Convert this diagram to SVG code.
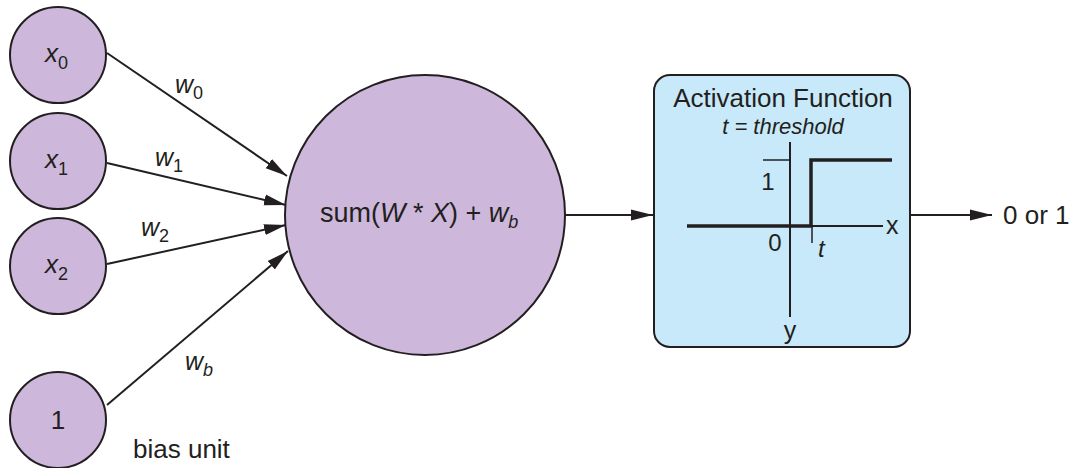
<svg xmlns="http://www.w3.org/2000/svg" width="1075" height="468" viewBox="0 0 1075 468">
<style>
text{font-family:"Liberation Sans",Arial,sans-serif;fill:#231f20}
.node{fill:#cdb8db;stroke:#231f20;stroke-width:2}
.conn{stroke:#231f20;stroke-width:2;fill:none}
.it{font-style:italic}
.lbl{font-size:26px}
.w{font-size:25px}
.sub{font-size:18px;font-style:normal}
.subi{font-size:18px;font-style:italic}
</style>
<defs>
<marker id="ah2" viewBox="0 0 10 10" refX="10" refY="5" markerWidth="22" markerHeight="22" markerUnits="userSpaceOnUse" orient="auto"><path d="M0,2.5 L10,5 L0,7.5 z" fill="#231f20"/></marker>
</defs>
<g id="connectors">
<line class="conn" x1="107" y1="53" x2="287" y2="176" marker-end="url(#ah2)"/>
<line class="conn" x1="107" y1="163" x2="286" y2="205" marker-end="url(#ah2)"/>
<line class="conn" x1="107" y1="264" x2="286" y2="225" marker-end="url(#ah2)"/>
<line class="conn" x1="107" y1="405" x2="288" y2="251" marker-end="url(#ah2)"/>
<line class="conn" x1="565" y1="215" x2="653" y2="215" marker-end="url(#ah2)"/>
<line class="conn" x1="910" y1="215" x2="992" y2="215" marker-end="url(#ah2)"/>
<text class="w it" x="175" y="93">w<tspan class="sub" dy="6">0</tspan></text>
<text class="w it" x="155" y="166">w<tspan class="sub" dy="6">1</tspan></text>
<text class="w it" x="141" y="236">w<tspan class="sub" dy="6">2</tspan></text>
<text class="w it" x="185" y="370">w<tspan class="subi" dy="6">b</tspan></text>
</g>
<g id="x0"><circle class="node" cx="58" cy="55" r="48"/><text class="lbl it" x="45" y="62">x<tspan class="sub" dy="7">0</tspan></text></g>
<g id="x1"><circle class="node" cx="58" cy="161" r="48"/><text class="lbl it" x="45" y="168">x<tspan class="sub" dy="7">1</tspan></text></g>
<g id="x2"><circle class="node" cx="58" cy="266" r="48"/><text class="lbl it" x="45" y="273">x<tspan class="sub" dy="7">2</tspan></text></g>
<g id="bias"><circle class="node" cx="58" cy="420" r="48"/><text class="lbl" x="58" y="429" text-anchor="middle">1</text><text class="lbl" x="133" y="458">bias unit</text></g>
<g id="sum"><circle class="node" cx="425" cy="215" r="140"/><text style="font-size:27px" x="320" y="222">sum(<tspan class="it">W</tspan> * <tspan class="it">X</tspan>) + <tspan class="it">w</tspan><tspan class="subi" dy="6">b</tspan></text></g>
<g id="activation">
<rect x="654" y="75" width="256" height="272" rx="16" fill="#c8e9f9" stroke="#231f20" stroke-width="2"/>
<text x="783" y="107" text-anchor="middle" style="font-size:26px">Activation Function</text>
<text x="783" y="134" text-anchor="middle" class="it" style="font-size:22px">t = threshold</text>
<line x1="790" y1="142" x2="790" y2="317" stroke="#231f20" stroke-width="2"/>
<line x1="790" y1="226" x2="883" y2="226" stroke="#231f20" stroke-width="2"/>
<line x1="763" y1="160" x2="790" y2="160" stroke="#231f20" stroke-width="1.5"/>
<line x1="812" y1="226" x2="812" y2="243" stroke="#231f20" stroke-width="1.5"/>
<polyline points="687,226 811,226 811,160 892,160" fill="none" stroke="#231f20" stroke-width="3.5"/>
<text x="768" y="190" text-anchor="middle" style="font-size:24px">1</text>
<text x="775" y="251" text-anchor="middle" style="font-size:24px">0</text>
<text x="818" y="257" class="it" style="font-size:24px">t</text>
<text x="886" y="234" style="font-size:25px">x</text>
<text x="790" y="339" text-anchor="middle" style="font-size:25px">y</text>
</g>
<g id="output"><text x="1003" y="224" style="font-size:26px">0 or 1</text></g>
</svg>
